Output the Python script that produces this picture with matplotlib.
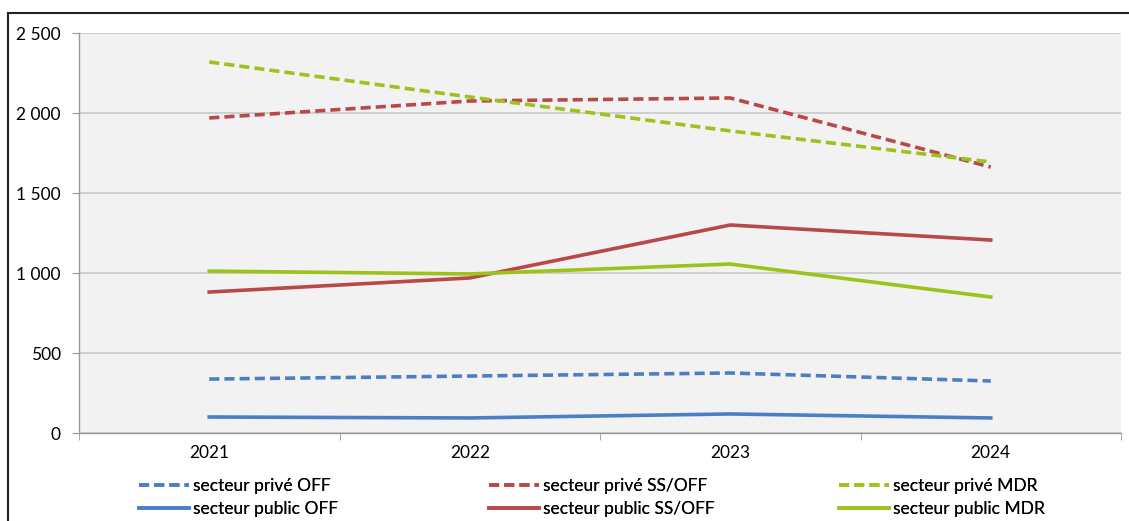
import numpy as np
import matplotlib
matplotlib.use('Agg')
import matplotlib.pyplot as plt
from matplotlib.ticker import FuncFormatter, FixedLocator
from matplotlib.lines import Line2D

years = ['2021', '2022', '2023', '2024']
prive_off = [337, 356, 375, 325]
prive_ssoff = [1969, 2075, 2094, 1662]
prive_mdr = [2319, 2100, 1888, 1694]
public_off = [100, 94, 119, 94]
public_ssoff = [881, 969, 1300, 1206]
public_mdr = [1012, 994, 1056, 850]

BLUE = '#4a7fc7'
RED = '#b94848'
GREEN = '#9bc31c'

plt.rcParams['font.family'] = ['Lato', 'DejaVu Sans']
plt.rcParams['font.size'] = 12.5

fig = plt.figure(figsize=(11.29, 5.21), dpi=100)
ax = fig.add_axes([79/1129, 1 - 433/521, (1121 - 79)/1129, 400/521])
ax.set_facecolor('#f2f2f2')

x = np.arange(len(years))
LW = 2.6
dash = (0, (2.8, 1.4))
groups = [
    (prive_off, public_off, BLUE, 'OFF'),
    (prive_ssoff, public_ssoff, RED, 'SS/OFF'),
    (prive_mdr, public_mdr, GREEN, 'MDR'),
]
handles = []
for prv, pub, col, name in groups:
    h1, = ax.plot(x, prv, color=col, lw=LW, ls=dash, label='secteur privé ' + name)
    h2, = ax.plot(x, pub, color=col, lw=LW, label='secteur public ' + name)
    handles.append((h1, h2))

ax.set_xlim(-0.5, 3.5)
ax.set_ylim(0, 2500)
ax.set_yticks(np.arange(0, 2501, 500))
ax.yaxis.set_major_formatter(FuncFormatter(lambda v, p: f'{int(v):,}'.replace(',', ' ')))
ax.grid(axis='y', color='#c8c8c8', lw=1.2)
ax.set_axisbelow(True)

ax.set_xticks(x)
ax.set_xticklabels(years)
ax.xaxis.set_minor_locator(FixedLocator(np.arange(-0.5, 3.6, 1)))
ax.tick_params(axis='x', which='major', length=0, pad=9)
ax.tick_params(axis='x', which='minor', length=5, color='#999999')
ax.tick_params(axis='y', length=5, color='#999999', pad=8)

for s in ['top', 'right']:
    ax.spines[s].set_visible(False)
for s in ['left', 'bottom']:
    ax.spines[s].set_color('#999999')
    ax.spines[s].set_linewidth(1)

# three legend blocks under the chart
for i, (h1, h2) in enumerate(handles):
    leg = fig.legend([h1, h2], [h1.get_label(), h2.get_label()],
                     loc='upper left', bbox_to_anchor=((132 + 350*i)/1129, 1 - 471/521),
                     frameon=False, handlelength=2.9, handletextpad=0.2,
                     labelspacing=0.42, borderaxespad=0)
    fig.add_artist(leg)

# outer frame lines
fig.add_artist(Line2D([8/1129, 1], [1 - 13/521, 1 - 13/521], color='#222222', lw=1.5))
fig.add_artist(Line2D([8/1129, 8/1129], [0, 1 - 13/521], color='#222222', lw=1.5))

fig.savefig('out.png', dpi=100)
